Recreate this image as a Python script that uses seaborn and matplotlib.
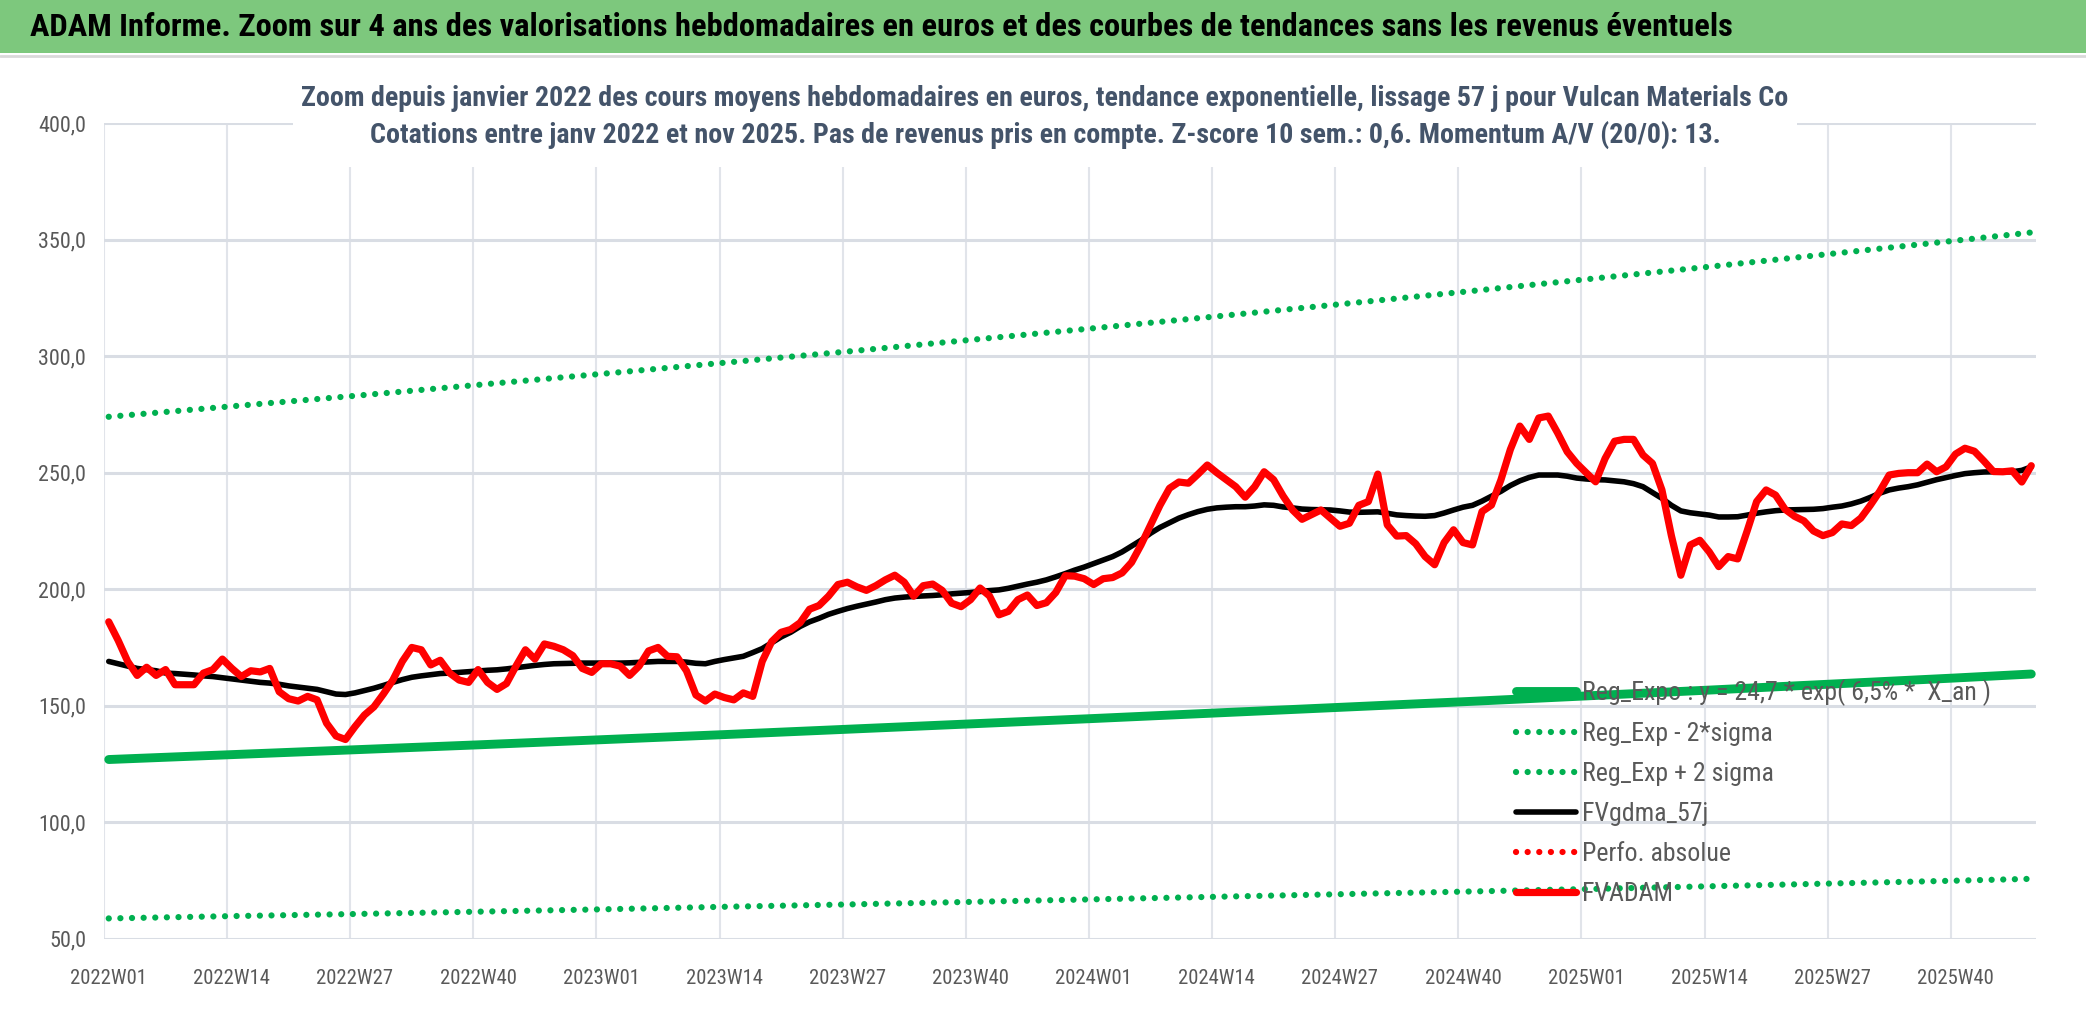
import numpy as np
import pandas as pd
import matplotlib
matplotlib.use("Agg")
import matplotlib.pyplot as plt
import matplotlib.font_manager as fm
from matplotlib.patches import Rectangle
from matplotlib.lines import Line2D
from matplotlib.ticker import FuncFormatter
import seaborn as sns

# --- donnees (cours hebdo en euros) ---
fvadam = [
    186, 178, 169, 163, 166.5, 163, 165.5, 159, 159, 159,
    164, 165.5, 170, 166, 162.5, 165, 164.5, 166, 156, 153,
    152, 154, 152.5, 142.5, 137, 135.5, 141, 146, 149.5, 155,
    161, 169, 175, 174, 167.5, 169.5, 164, 161, 160, 165.5,
    160, 157, 159.5, 167, 174, 170, 176.5, 175.5, 174, 171.5,
    166, 164.3, 168, 168, 167, 163, 167, 173.5, 175, 171.2,
    171, 165, 154.6, 152, 155, 153.5, 152.5, 155.5, 154, 169,
    177.5, 181.5, 182.7, 185.6, 191.4, 193, 197, 202, 203, 201,
    199.5, 201.5, 204, 206, 203, 197, 201.5, 202.2, 199.5, 194,
    192.5, 195.5, 200.5, 197.1, 189, 190.5, 195.5, 197.5, 193, 194.2,
    198.6, 205.8, 205.6, 204.5, 202, 204.5, 205, 207, 211.5, 219,
    227.5, 236, 243.3, 246, 245.5, 249.3, 253.3, 250, 247, 244,
    239.5, 244, 250.4, 247, 240, 234, 230, 232, 234, 230.5,
    227, 228.3, 236, 237.6, 249.4, 227.6, 222.8, 223, 219.5, 214,
    210.5, 220, 225.5, 220, 219, 233.3, 236.1, 246.9, 260, 270,
    264.3, 273.5, 274.3, 267, 259, 254, 250, 246.1, 256.1, 263.5,
    264.3, 264.3, 257.6, 254, 242.6, 223, 206, 219, 221, 216,
    209.7, 214, 213, 225, 237.6, 242.6, 240.4, 234.3, 231.3, 229.3,
    225, 223, 224.3, 228, 227.3, 230.5, 236, 242, 249, 249.7,
    250, 250, 253.7, 250.4, 252.5, 258, 260.5, 259.2, 255, 250.5,
    250.4, 250.8, 246, 253,
]

fvgdma_57j = [
    169, 168, 167, 166, 165.5, 165, 164, 163.8, 163.5, 163.2,
    162.8, 162.5, 162, 161.5, 161, 160.5, 160, 159.7, 159.2, 158.5,
    158, 157.5, 157, 156, 155, 154.8, 155.5, 156.5, 157.5, 158.7,
    160, 161.2, 162.2, 162.8, 163.3, 163.8, 164, 164.3, 164.6, 164.9,
    165.2, 165.4, 165.8, 166.3, 166.8, 167.3, 167.7, 168, 168.1, 168.2,
    168.3, 168.3, 168.3, 168.3, 168.3, 168.4, 168.6, 168.8, 169, 169,
    169, 168.7, 168.2, 168, 169, 169.8, 170.5, 171.2, 172.8, 174.5,
    177, 179.5, 181.5, 184, 186, 187.5, 189.2, 190.5, 191.7, 192.7,
    193.6, 194.5, 195.5, 196.2, 196.6, 196.9, 197.1, 197.3, 197.6, 198,
    198.3, 198.6, 199, 199.4, 199.7, 200.4, 201.3, 202.2, 203, 204,
    205.3, 206.7, 208.2, 209.5, 211, 212.5, 214, 216, 218.5, 221,
    224, 226.5, 228.5, 230.5, 232, 233.3, 234.3, 234.9, 235.2, 235.4,
    235.4, 235.7, 236.2, 236, 235.3, 234.9, 234.4, 234.2, 234.1, 234,
    233.6, 233.1, 233, 233.1, 233.2, 232.6, 231.9, 231.6, 231.4, 231.3,
    231.6, 232.7, 234, 235.2, 236, 237.8, 239.9, 242, 244.5, 246.5,
    248, 249, 249, 249, 248.5, 247.7, 247.3, 247, 246.9, 246.5,
    246.1, 245.3, 244, 241.5, 239, 236, 233.6, 232.8, 232.3, 231.8,
    231, 231, 231.1, 231.8, 232.6, 233.2, 233.7, 234, 234.1, 234.2,
    234.3, 234.6, 235.2, 235.7, 236.6, 237.8, 239.4, 241.2, 242.6, 243.4,
    244, 244.8, 245.9, 247, 247.9, 248.8, 249.6, 250, 250.3, 250.4,
    250.4, 250.4, 251, 252.5,
]

perfo_absolue = []  # serie presente dans la legende, invisible sur le graphique

# tendances lues tous les 13 semaines + derniere semaine
sem_tendance = [0, 13, 26, 39, 52, 65, 78, 91, 104, 117, 130, 143, 156, 169, 182, 195, 203]
reg_expo = [126.9, 129.0, 131.1, 133.2, 135.4, 137.6, 139.9, 142.2, 144.5,
            146.9, 149.3, 151.7, 154.2, 156.7, 159.3, 161.9, 163.6]
reg_moins_2sigma = [58.7, 59.7, 60.6, 61.6, 62.6, 63.7, 64.7, 65.8, 66.9,
                    68.0, 69.1, 70.2, 71.3, 72.5, 73.7, 74.9, 75.7]
reg_plus_2sigma = [274.0, 278.5, 283.0, 287.7, 292.4, 297.2, 302.0, 307.0, 312.0,
                   317.1, 322.3, 327.6, 333.0, 338.4, 344.0, 349.6, 353.1]

etiquettes_x = ["2022W01", "2022W14", "2022W27", "2022W40", "2023W01", "2023W14",
                "2023W27", "2023W40", "2024W01", "2024W14", "2024W27", "2024W40",
                "2025W01", "2025W14", "2025W27", "2025W40"]

titre = ("ADAM Informe. Zoom sur 4 ans des valorisations hebdomadaires en euros "
         "et des courbes de tendances sans les revenus éventuels")
sous_titre_1 = ("Zoom depuis janvier 2022 des cours moyens hebdomadaires en euros, "
                "tendance exponentielle, lissage 57 j pour Vulcan Materials Co")
sous_titre_2 = ("Cotations entre janv 2022 et nov 2025. Pas de revenus pris en compte. "
                "Z-score 10 sem.: 0,6. Momentum A/V (20/0): 13.")

# --- polices : on cherche une police etroite, regular et grasse ---
sns.set_style("white")
candidats = ["Liberation Sans Narrow", "Roboto Condensed", "Noto Sans Condensed",
             "DejaVu Sans Condensed", "Open Sans Condensed", "Open Sans Condensed Light",
             "Noto Sans SemiCondensed", "Open Sans SemiCondensed", "Open Sans",
             "Noto Sans", "Liberation Sans"]


def poids(f):
    w = f.weight
    if isinstance(w, str):
        w = fm.weight_dict.get(w, 400)
    return w


def choisir(gras):
    for c in candidats:
        for f in fm.fontManager.ttflist:
            if f.name != c or f.style != "normal":
                continue
            w = poids(f)
            if (gras and w >= 600) or (not gras and 300 <= w <= 500):
                return c
    return "DejaVu Sans"


police = choisir(False)
police_gras = choisir(True)
plt.rcParams["font.family"] = [police, "DejaVu Sans"]

W, H = 2086, 1031
fig = plt.figure(figsize=(W / 100, H / 100), dpi=100)
renderer = fig.canvas.get_renderer()


def taille_pour(texte, largeur_px, gras=False):
    t = fig.text(0, 0, texte, fontsize=20, fontweight="bold" if gras else "normal",
                 family=[police_gras if gras else police, "DejaVu Sans"])
    w = t.get_window_extent(renderer=renderer).width
    t.remove()
    return 20 * largeur_px / w


# bandeau vert du titre
fig.patches.append(Rectangle((0, 1 - 53 / H), 1, 53 / H, transform=fig.transFigure,
                             facecolor="#7DC87D", edgecolor="none", zorder=1))
fig.lines.append(Line2D([0, 1], [1 - 56 / H, 1 - 56 / H], transform=fig.transFigure,
                        color="#D9D9D9", lw=2))
fig.text(30 / W, 1 - 27 / H, titre, fontsize=taille_pour(titre, 1700, True),
         fontweight="bold", family=[police_gras, "DejaVu Sans"], color="black",
         ha="left", va="center", zorder=3)

# axes
ax = fig.add_axes([104 / W, 1 - 938.7 / H, (2036 - 104) / W, (938.7 - 123.2) / H])
x = np.arange(len(fvadam))
df = pd.DataFrame({"semaine": x, "FVADAM": fvadam, "FVgdma_57j": fvgdma_57j})
df_tend = pd.DataFrame({"semaine": sem_tendance, "expo": reg_expo,
                        "moins": reg_moins_2sigma, "plus": reg_plus_2sigma})

vert = "#00B050"
pointille = (0, (0.01, 1.85))
sns.lineplot(data=df_tend, x="semaine", y="expo", ax=ax, color=vert, lw=6.4,
             label="Reg_Expo : y = 24,7 * exp( 6,5% *  X_an )")
sns.lineplot(data=df_tend, x="semaine", y="moins", ax=ax, color=vert, lw=4.5,
             linestyle=pointille, dash_capstyle="round", label="Reg_Exp - 2*sigma")
sns.lineplot(data=df_tend, x="semaine", y="plus", ax=ax, color=vert, lw=4.5,
             linestyle=pointille, dash_capstyle="round", label="Reg_Exp + 2 sigma")
sns.lineplot(data=df, x="semaine", y="FVgdma_57j", ax=ax, color="black", lw=4.0,
             label="FVgdma_57j")
ax.plot(x[:len(perfo_absolue)], perfo_absolue, color="red", lw=4.5,
        linestyle=pointille, dash_capstyle="round", label="Perfo. absolue")
sns.lineplot(data=df, x="semaine", y="FVADAM", ax=ax, color="red", lw=5.2,
             label="FVADAM")

ax.set_xlim(-0.5, len(fvadam) - 0.5)
ax.set_ylim(50, 400)
ax.set_yticks(np.arange(50, 401, 50))
ax.yaxis.set_major_formatter(FuncFormatter(lambda v, _: f"{v:.1f}".replace(".", ",")))
pos_ticks = np.arange(len(etiquettes_x)) * 13
ax.set_xticks(pos_ticks)
ax.set_xticklabels(etiquettes_x)
ax.set_xticks(pos_ticks - 0.5, minor=True)
ax.grid(False)
ax.yaxis.grid(True, color="#D9DDE4", lw=2.2)
ax.xaxis.grid(True, which="minor", color="#E1E4EA", lw=1.5)
ax.set_axisbelow(True)
for s in ax.spines.values():
    s.set_visible(False)
ax.set_xlabel("")
ax.set_ylabel("")
ax.tick_params(axis="both", which="both", length=0, colors="#595959")
ax.tick_params(axis="x", labelsize=taille_pour("2022W01", 77), pad=22)
ax.tick_params(axis="y", labelsize=taille_pour("400,0", 48), pad=13)
for lab in ax.get_xticklabels() + ax.get_yticklabels():
    lab.set_fontweight("normal")

# legende sans cadre
fs_leg = taille_pour("Reg_Expo : y = 24,7 * exp( 6,5% *  X_an )", 409)
fs_px = fs_leg * 100 / 72
handles, labels = ax.get_legend_handles_labels()
leg = ax.legend(handles, labels, loc="upper left",
                bbox_to_anchor=(1516 / W, 1 - 679 / H), bbox_transform=fig.transFigure,
                frameon=False, borderpad=0, borderaxespad=0, fontsize=fs_leg,
                handlelength=60 / fs_px, handletextpad=6 / fs_px,
                labelspacing=(48.5 - 1.25 * fs_px) / fs_px, labelcolor="#595959")

# titre du graphique sur fond blanc
fig.patches.append(Rectangle((293 / W, 1 - 167 / H), (1797 - 293) / W, (167 - 68) / H,
                             transform=fig.transFigure, facecolor="white",
                             edgecolor="none", zorder=2))
fs_sous = taille_pour(sous_titre_1, 1486, True)
for ligne, y in [(sous_titre_1, 98), (sous_titre_2, 135)]:
    fig.text(1045 / W, 1 - y / H, ligne, fontsize=fs_sous, fontweight="bold",
             family=[police_gras, "DejaVu Sans"], color="#44546A",
             ha="center", va="center", zorder=3)

fig.savefig("out.png", dpi=100)
